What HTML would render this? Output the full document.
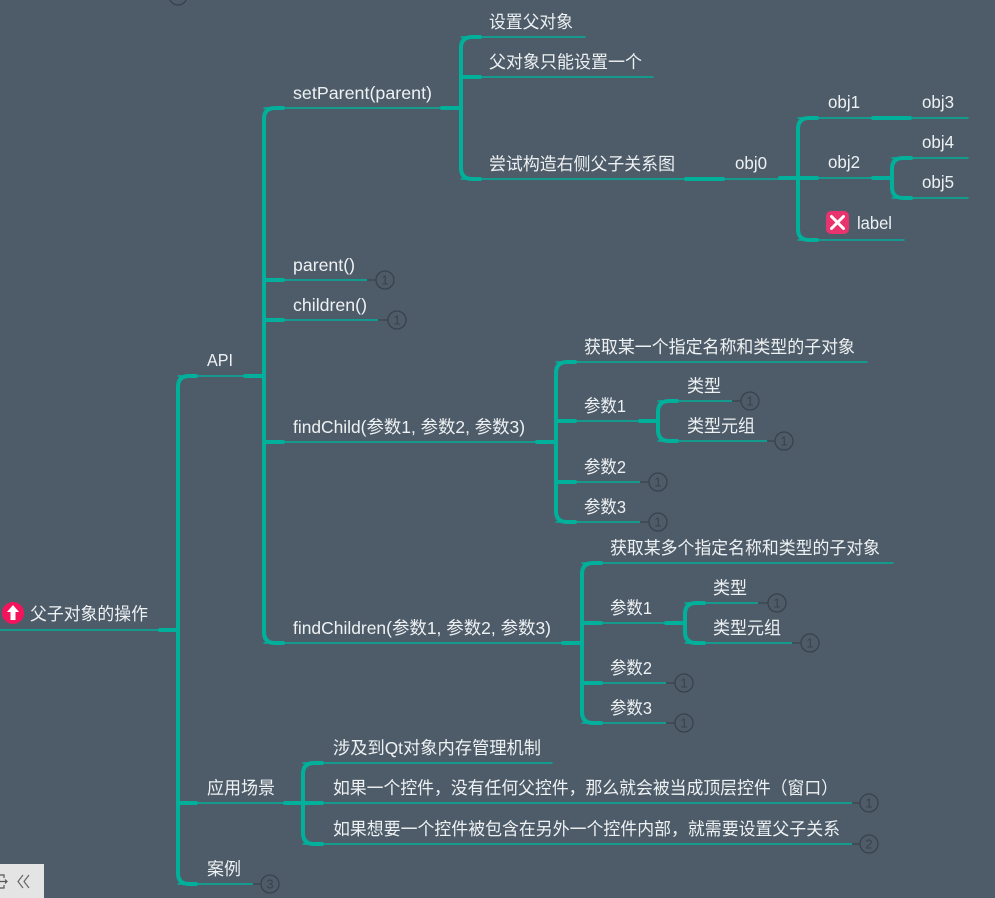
<!DOCTYPE html>
<html><head><meta charset="utf-8">
<style>
html,body{margin:0;padding:0;background:#4e5c69;}
svg{display:block;}
text{font-family:"Liberation Sans","Noto Sans CJK SC",sans-serif;font-size:17.5px;fill:#eef1f3;}
.n{font-size:13px;fill:#38424b;text-anchor:middle;}
</style></head>
<body>
<svg width="995" height="898" viewBox="0 0 995 898" xmlns="http://www.w3.org/2000/svg">
<rect width="995" height="898" fill="#4e5c69"/>

<!-- top partial circle -->
<circle cx="178" cy="-4" r="9" fill="none" stroke="#38424b" stroke-width="1.3"/>

<g fill="none" stroke="#00b09b" stroke-linecap="round">
  <!-- thin lines -->
  <g stroke-width="1.5">
    <path d="M0 630H160"/>
    <path d="M178 376H245"/>
    <path d="M264 108H442"/>
    <path d="M264 280H367"/>
    <path d="M264 320H378"/>
    <path d="M264 442H537"/>
    <path d="M264 643H563"/>
    <path d="M461 37H585"/>
    <path d="M461 77H653"/>
    <path d="M461 179H686"/>
    <path d="M723 179H780"/>
    <path d="M798 118H873"/>
    <path d="M910 118H968"/>
    <path d="M798 178H873"/>
    <path d="M798 240H904"/>
    <path d="M892 158H968"/>
    <path d="M892 198H968"/>
    <path d="M556 362H867"/>
    <path d="M556 421H640"/>
    <path d="M556 482H640"/>
    <path d="M556 522H640"/>
    <path d="M658 401H732"/>
    <path d="M658 441H767"/>
    <path d="M582 563H893"/>
    <path d="M582 623H666"/>
    <path d="M582 683H666"/>
    <path d="M582 723H666"/>
    <path d="M685 603H758"/>
    <path d="M685 643H792"/>
    <path d="M178 803H285"/>
    <path d="M303 763H552"/>
    <path d="M303 803H852"/>
    <path d="M303 844H852"/>
    <path d="M178 884H253"/>
  </g>
  <!-- thick brackets and stubs -->
  <g stroke-width="4">
    <path d="M160 630H178"/>
    <path d="M196 376H189Q178 376 178 387V873Q178 884 189 884H196"/>
    <path d="M178 803H196"/>
    <path d="M245 376H264"/>
    <path d="M283 108H275Q264 108 264 119V632Q264 643 275 643H283"/>
    <path d="M264 280H283"/>
    <path d="M264 320H283"/>
    <path d="M264 442H283"/>
    <path d="M442 108H461"/>
    <path d="M480 37H472Q461 37 461 48V168Q461 179 472 179H480"/>
    <path d="M461 77H480"/>
    <path d="M686 179H723"/>
    <path d="M780 178H798"/>
    <path d="M817 118H809Q798 118 798 129V229Q798 240 809 240H817"/>
    <path d="M798 178H817"/>
    <path d="M873 118H910"/>
    <path d="M873 178H892"/>
    <path d="M911 158H903Q892 158 892 169V187Q892 198 903 198H911"/>
    <path d="M537 442H556"/>
    <path d="M575 362H567Q556 362 556 373V511Q556 522 567 522H575"/>
    <path d="M556 421H575"/>
    <path d="M556 482H575"/>
    <path d="M640 421H658"/>
    <path d="M677 401H669Q658 401 658 412V430Q658 441 669 441H677"/>
    <path d="M563 643H582"/>
    <path d="M601 563H593Q582 563 582 574V712Q582 723 593 723H601"/>
    <path d="M582 623H601"/>
    <path d="M582 683H601"/>
    <path d="M666 623H685"/>
    <path d="M704 603H696Q685 603 685 614V632Q685 643 696 643H704"/>
    <path d="M285 803H303"/>
    <path d="M322 763H314Q303 763 303 774V833Q303 844 314 844H322"/>
    <path d="M303 803H322"/>
  </g>
</g>

<!-- count circles -->
<g fill="none" stroke="#38424b" stroke-width="1.3">
  <path d="M367 280H376M378 320H388M732 401H741M767 441H775M640 482H649M640 522H649M758 603H768M792 643H801M666 683H675M666 723H675M852 803H860M852 844H860M253 884H261"/>
  <circle cx="385" cy="280" r="9"/>
  <circle cx="397" cy="320" r="9"/>
  <circle cx="750" cy="401" r="9"/>
  <circle cx="784" cy="441" r="9"/>
  <circle cx="658" cy="482" r="9"/>
  <circle cx="658" cy="522" r="9"/>
  <circle cx="777" cy="603" r="9"/>
  <circle cx="810" cy="643" r="9"/>
  <circle cx="684" cy="683" r="9"/>
  <circle cx="684" cy="723" r="9"/>
  <circle cx="869" cy="803" r="9"/>
  <circle cx="869" cy="844" r="9"/>
  <circle cx="270" cy="884" r="9"/>
</g>
<g>
  <text class="n" x="385" y="284.7">1</text>
  <text class="n" x="397" y="324.7">1</text>
  <text class="n" x="750" y="405.7">1</text>
  <text class="n" x="784" y="445.7">1</text>
  <text class="n" x="658" y="486.7">1</text>
  <text class="n" x="658" y="526.7">1</text>
  <text class="n" x="777" y="607.7">1</text>
  <text class="n" x="810" y="647.7">1</text>
  <text class="n" x="684" y="687.7">1</text>
  <text class="n" x="684" y="727.7">1</text>
  <text class="n" x="869" y="807.7">1</text>
  <text class="n" x="869" y="848.7">2</text>
  <text class="n" x="270" y="888.7">3</text>
</g>

<!-- root icon -->
<circle cx="13" cy="613" r="11" fill="#f5145b"/>
<path d="M13 605L7 612H10.5V620H15.5V612H19Z" fill="#fff"/>

<!-- label icon -->
<rect x="826" y="211" width="23" height="23" rx="5" fill="#e8336e"/>
<path d="M831.5 216.5L843.5 228.5M843.5 216.5L831.5 228.5" stroke="#fff" stroke-width="3" stroke-linecap="round"/>

<!-- labels -->
<text x="30" y="620" textLength="118" lengthAdjust="spacingAndGlyphs">父子对象的操作</text>
<text x="207" y="366" textLength="26" lengthAdjust="spacingAndGlyphs">API</text>
<text x="293" y="99" textLength="139" lengthAdjust="spacingAndGlyphs">setParent(parent)</text>
<text x="489" y="28" textLength="84" lengthAdjust="spacingAndGlyphs">设置父对象</text>
<text x="489" y="68" textLength="153" lengthAdjust="spacingAndGlyphs">父对象只能设置一个</text>
<text x="489" y="170" textLength="186" lengthAdjust="spacingAndGlyphs">尝试构造右侧父子关系图</text>
<text x="735" y="169" textLength="32" lengthAdjust="spacingAndGlyphs">obj0</text>
<text x="828" y="108" textLength="32" lengthAdjust="spacingAndGlyphs">obj1</text>
<text x="922" y="108" textLength="32" lengthAdjust="spacingAndGlyphs">obj3</text>
<text x="828" y="168" textLength="32" lengthAdjust="spacingAndGlyphs">obj2</text>
<text x="922" y="148" textLength="32" lengthAdjust="spacingAndGlyphs">obj4</text>
<text x="922" y="188" textLength="32" lengthAdjust="spacingAndGlyphs">obj5</text>
<text x="857" y="229" textLength="35" lengthAdjust="spacingAndGlyphs">label</text>
<text x="293" y="271" textLength="62" lengthAdjust="spacingAndGlyphs">parent()</text>
<text x="293" y="311" textLength="74" lengthAdjust="spacingAndGlyphs">children()</text>
<text x="293" y="433" textLength="232" lengthAdjust="spacingAndGlyphs">findChild(参数1, 参数2, 参数3)</text>
<text x="584" y="353" textLength="271" lengthAdjust="spacingAndGlyphs">获取某一个指定名称和类型的子对象</text>
<text x="584" y="412" textLength="42" lengthAdjust="spacingAndGlyphs">参数1</text>
<text x="687" y="392" textLength="34" lengthAdjust="spacingAndGlyphs">类型</text>
<text x="687" y="432" textLength="68" lengthAdjust="spacingAndGlyphs">类型元组</text>
<text x="584" y="473" textLength="42" lengthAdjust="spacingAndGlyphs">参数2</text>
<text x="584" y="513" textLength="42" lengthAdjust="spacingAndGlyphs">参数3</text>
<text x="293" y="634" textLength="258" lengthAdjust="spacingAndGlyphs">findChildren(参数1, 参数2, 参数3)</text>
<text x="610" y="554" textLength="270" lengthAdjust="spacingAndGlyphs">获取某多个指定名称和类型的子对象</text>
<text x="610" y="614" textLength="42" lengthAdjust="spacingAndGlyphs">参数1</text>
<text x="713" y="594" textLength="34" lengthAdjust="spacingAndGlyphs">类型</text>
<text x="713" y="634" textLength="68" lengthAdjust="spacingAndGlyphs">类型元组</text>
<text x="610" y="674" textLength="42" lengthAdjust="spacingAndGlyphs">参数2</text>
<text x="610" y="714" textLength="42" lengthAdjust="spacingAndGlyphs">参数3</text>
<text x="207" y="794" textLength="68" lengthAdjust="spacingAndGlyphs">应用场景</text>
<text x="333" y="754" textLength="208" lengthAdjust="spacingAndGlyphs">涉及到Qt对象内存管理机制</text>
<text x="333" y="794" textLength="505" lengthAdjust="spacingAndGlyphs">如果一个控件，没有任何父控件，那么就会被当成顶层控件（窗口）</text>
<text x="333" y="835" textLength="507" lengthAdjust="spacingAndGlyphs">如果想要一个控件被包含在另外一个控件内部，就需要设置父子关系</text>
<text x="207" y="875" textLength="34" lengthAdjust="spacingAndGlyphs">案例</text>

<!-- bottom-left toolbar -->
<rect x="0" y="864" width="44" height="34" fill="#e4e4e4"/>
<path d="M0 875H4V878M4 885V888H0M0 881.5H7M5 879.5L7 881.5L5 883.5" fill="none" stroke="#555" stroke-width="1.2"/>
<path d="M23 875L18 881.5L23 888M29 875L24 881.5L29 888" fill="none" stroke="#666" stroke-width="1.2"/>
</svg>
</body></html>
